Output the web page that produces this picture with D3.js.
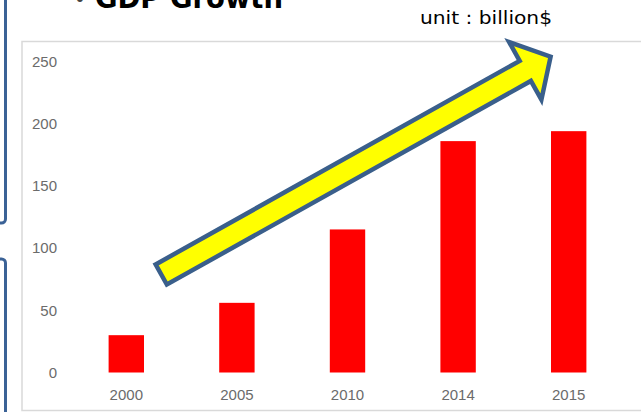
<!DOCTYPE html>
<html>
<head>
<meta charset="utf-8">
<script src="https://cdn.jsdelivr.net/npm/d3@7"></script>
<style>
body { margin: 0; background: #fff; }
svg { display: block; }
</style>
</head>
<body>
<svg id="chart"></svg>
<script>
var years = ["2000", "2005", "2010", "2014", "2015"];
var gdp = [30, 56, 115, 186, 194];
var yTicks = [0, 50, 100, 150, 200, 250];
var titleText = "GDP Growth";
var unitText = "unit : billion$";
// arrow annotation, in (category index, value)
var arrowFrom = [0.3, 78];
var arrowTo = [3.86, 255];

var width = 641, height = 412;

var svg = d3.select("#chart")
    .attr("width", width)
    .attr("height", height);

// blue slide boxes peeking in on the left
svg.append("rect")
    .attr("x", -20).attr("y", -20)
    .attr("width", 25.5).attr("height", 243)
    .attr("rx", 4)
    .attr("fill", "none")
    .attr("stroke", "#3B6296")
    .attr("stroke-width", 3);
svg.append("rect")
    .attr("x", -20).attr("y", 259)
    .attr("width", 25.5).attr("height", 200)
    .attr("rx", 4)
    .attr("fill", "none")
    .attr("stroke", "#3B6296")
    .attr("stroke-width", 3);

// title, cut by the top edge like the slide
svg.append("text")
    .attr("x", 74).attr("y", 6)
    .attr("font-family", "DejaVu Sans")
    .attr("font-size", 20)
    .attr("fill", "#444")
    .text("•");
svg.append("text")
    .attr("x", 95).attr("y", 8)
    .attr("font-family", "DejaVu Sans")
    .attr("font-weight", "bold")
    .attr("font-size", 28)
    .attr("textLength", 188)
    .attr("lengthAdjust", "spacingAndGlyphs")
    .attr("fill", "#000")
    .text(titleText);

// chart frame
svg.append("rect")
    .attr("x", 22).attr("y", 41.5)
    .attr("width", 640).attr("height", 369)
    .attr("fill", "#fff")
    .attr("stroke", "#d9d9d9")
    .attr("stroke-width", 1.5);

var xScale = d3.scaleBand()
    .domain(years)
    .range([71, 624])
    .paddingInner(0.68)
    .paddingOuter(0.34);
var yScale = d3.scaleLinear()
    .domain([0, 250])
    .range([372.5, 61.5]);

var yAxis = svg.append("g")
    .attr("transform", "translate(57,0)")
    .call(d3.axisLeft(yScale).tickValues(yTicks).tickSize(0).tickPadding(0));
yAxis.select(".domain").remove();
yAxis.selectAll("text")
    .attr("font-family", "Liberation Sans")
    .attr("font-size", 15)
    .attr("fill", "#6b6b6b");

var xAxis = svg.append("g")
    .attr("transform", "translate(0,389)")
    .call(d3.axisBottom(xScale).tickSize(0).tickPadding(0));
xAxis.select(".domain").remove();
xAxis.selectAll("text")
    .attr("font-family", "Liberation Sans")
    .attr("font-size", 15)
    .attr("fill", "#6b6b6b");

svg.append("g")
    .selectAll("rect")
    .data(years)
    .enter()
    .append("rect")
    .attr("x", function(d){ return xScale(d); })
    .attr("y", function(d, i){ return yScale(gdp[i]); })
    .attr("width", xScale.bandwidth())
    .attr("height", function(d, i){ return yScale(0) - yScale(gdp[i]); })
    .attr("fill", "#ff0000");

// big yellow arrow
var xIdx = d3.scaleLinear()
    .domain([0, years.length - 1])
    .range([xScale(years[0]) + xScale.bandwidth() / 2,
            xScale(years[years.length - 1]) + xScale.bandwidth() / 2]);
var x0 = xIdx(arrowFrom[0]), y0 = yScale(arrowFrom[1]);
var x1 = xIdx(arrowTo[0]), y1 = yScale(arrowTo[1]);
var len = Math.sqrt((x1 - x0) * (x1 - x0) + (y1 - y0) * (y1 - y0));
var ang = Math.atan2(y1 - y0, x1 - x0) * 180 / Math.PI;
var sw = 11.5, hw = 33, hl = 32;
var arrowPts = [
    [2, -sw], [len - hl, -sw], [len - hl, -hw], [len - 3, 0],
    [len - hl, hw], [len - hl, sw], [2, sw]
];
svg.append("path")
    .attr("d", d3.line()(arrowPts) + "Z")
    .attr("transform", "translate(" + x0 + "," + y0 + ") rotate(" + ang + ")")
    .attr("fill", "#ffff00")
    .attr("stroke", "#3A5F8B")
    .attr("stroke-width", 4.5)
    .attr("stroke-linejoin", "miter");

svg.append("text")
    .attr("x", 420).attr("y", 24)
    .attr("font-family", "DejaVu Sans")
    .attr("font-size", 18)
    .attr("textLength", 132)
    .attr("lengthAdjust", "spacingAndGlyphs")
    .attr("fill", "#000")
    .text(unitText);
</script>
</body>
</html>
